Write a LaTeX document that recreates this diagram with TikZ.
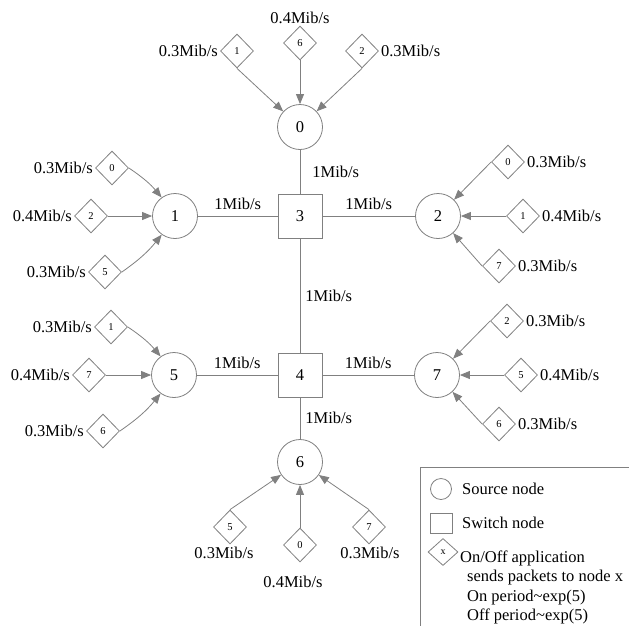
\documentclass[tikz,border=0pt]{standalone}
\usepackage{fontspec}
\setmainfont{Liberation Serif}
\usetikzlibrary{shapes.geometric,arrows.meta,positioning}
\definecolor{linegray}{RGB}{128,128,128}
\begin{document}
\begin{tikzpicture}[x=1pt,y=1pt,
  every node/.style={font=\fontsize{16.5}{19.3}\selectfont, text=black},
  src/.style={circle, draw=linegray, line width=0.8pt, minimum size=45pt, inner sep=0pt},
  sw/.style={rectangle, draw=linegray, line width=0.8pt, minimum size=44pt, inner sep=0pt},
  app/.style={diamond, draw=linegray, line width=0.8pt, minimum width=33pt, minimum height=34pt,
    inner sep=0pt, font=\fontsize{10.5}{12}\selectfont},
  rate/.style={inner sep=0pt},
  link/.style={draw=linegray, line width=0.8pt},
  feed/.style={draw=linegray, line width=0.8pt, -{Triangle[length=10pt,width=8pt]}},
]
\useasboundingbox (0,0) rectangle (629,-625);

% source and switch nodes
\node[src] (n0) at (300,-127) {0};
\node[sw]  (n3) at (300,-216) {3};
\node[src] (n1) at (175,-216) {1};
\node[src] (n2) at (438,-216) {2};
\node[sw]  (n4) at (300,-375) {4};
\node[src] (n5) at (174,-375) {5};
\node[src] (n7) at (437,-375) {7};
\node[src] (n6) at (300,-462) {6};

% links
\draw[link] (n0) -- node[rate, right=12pt] (r03) {1Mib/s} (n3);
\draw[link] (n1) -- node[rate, above=6pt] (r13) {1Mib/s} (n3);
\draw[link] (n3) -- node[rate, above=6pt] (r32) {1Mib/s} (n2);
\draw[link] (n3) -- node[rate, right=5pt] (r34) {1Mib/s} (n4);
\draw[link] (n5) -- node[rate, above=6pt] (r54) {1Mib/s} (n4);
\draw[link] (n4) -- node[rate, above=6pt] (r47) {1Mib/s} (n7);
\draw[link] (n4) -- node[rate, right=5pt] (r46) {1Mib/s} (n6);

% applications feeding node 0
\node[app] (a01) at (237,-51) {1};
\node[app] (a06) at (300,-43) {6};
\node[app] (a02) at (362,-51) {2};
\node[rate, left=2pt of a01] (t01) {0.3Mib/s};
\node[rate, above=1.5pt of a06] (t06) {0.4Mib/s};
\node[rate, right=2pt of a02] (t02) {0.3Mib/s};
\draw[feed] (a01.south) -- (n0);
\draw[feed] (a06.south) -- (n0);
\draw[feed] (a02.south) -- (n0);

% applications feeding node 1
\node[app] (a10) at (112,-168) {0};
\node[app] (a12) at (91,-216) {2};
\node[app] (a15) at (105,-272) {5};
\node[rate, left=2pt of a10] (t10) {0.3Mib/s};
\node[rate, left=2pt of a12] (t12) {0.4Mib/s};
\node[rate, left=2pt of a15] (t15) {0.3Mib/s};
\draw[feed] (a10.east) to[bend left=8] (n1);
\draw[feed] (a12.east) -- (n1);
\draw[feed] (a15.east) to[bend right=8] (n1);

% applications feeding node 2
\node[app] (a20) at (508,-162) {0};
\node[app] (a21) at (523,-216) {1};
\node[app] (a27) at (499,-266) {7};
\node[rate, right=2pt of a20] (t20) {0.3Mib/s};
\node[rate, right=2pt of a21] (t21) {0.4Mib/s};
\node[rate, right=2pt of a27] (t27) {0.3Mib/s};
\draw[feed] (a20.west) -- (n2);
\draw[feed] (a21.west) -- (n2);
\draw[feed] (a27.west) -- (n2);

% applications feeding node 5
\node[app] (a51) at (111,-327) {1};
\node[app] (a57) at (89,-375) {7};
\node[app] (a56) at (103,-431) {6};
\node[rate, left=2pt of a51] (t51) {0.3Mib/s};
\node[rate, left=2pt of a57] (t57) {0.4Mib/s};
\node[rate, left=2pt of a56] (t56) {0.3Mib/s};
\draw[feed] (a51.east) to[bend left=8] (n5);
\draw[feed] (a57.east) -- (n5);
\draw[feed] (a56.east) to[bend right=8] (n5);

% applications feeding node 7
\node[app] (a72) at (507,-321) {2};
\node[app] (a75) at (521,-375) {5};
\node[app] (a76) at (499,-424) {6};
\node[rate, right=2pt of a72] (t72) {0.3Mib/s};
\node[rate, right=2pt of a75] (t75) {0.4Mib/s};
\node[rate, right=2pt of a76] (t76) {0.3Mib/s};
\draw[feed] (a72.west) -- (n7);
\draw[feed] (a75.west) -- (n7);
\draw[feed] (a76.west) -- (n7);

% applications feeding node 6
\node[app] (a65) at (230,-527) {5};
\node[app] (a60) at (300,-545) {0};
\node[app] (a67) at (369,-527) {7};
\node[rate, below=2pt of a65, xshift=-6pt] (t65) {0.3Mib/s};
\node[rate, below=13pt of a60, xshift=-7pt] (t60) {0.4Mib/s};
\node[rate, below=2pt of a67, xshift=1pt] (t67) {0.3Mib/s};
\draw[feed] (a65.north) -- (n6);
\draw[feed] (a60.north) -- (n6);
\draw[feed] (a67.north) -- (n6);

% legend
\draw[link] (420,-626) -- (420,-467) -- (630,-467);
\node[circle, draw=linegray, line width=0.8pt, minimum size=21pt, inner sep=0pt] (kc) at (441,-489) {};
\node[rectangle, draw=linegray, line width=0.8pt, minimum width=22pt, minimum height=20pt, inner sep=0pt] (ks) at (441,-523) {};
\node[diamond, draw=linegray, line width=0.8pt, minimum width=30pt, minimum height=27pt, inner sep=0pt,
  font=\fontsize{10}{12}\selectfont] (kd) at (443,-552) {x};
\node[rate, anchor=base west] (kt1) at (462,-494.5) {Source node};
\node[rate, anchor=base west] (kt2) at (462,-528.5) {Switch node};
\node[rate, anchor=base west] (kt3) at (460,-562.6) {On/Off application};
\node[rate, anchor=base west] (kt4) at (467,-581.9) {sends packets to node x};
\node[rate, anchor=base west] (kt5) at (467,-601.2) {On period\textasciitilde exp(5)};
\node[rate, anchor=base west] (kt6) at (467,-620.5) {Off period\textasciitilde exp(5)};
\end{tikzpicture}
\end{document}
